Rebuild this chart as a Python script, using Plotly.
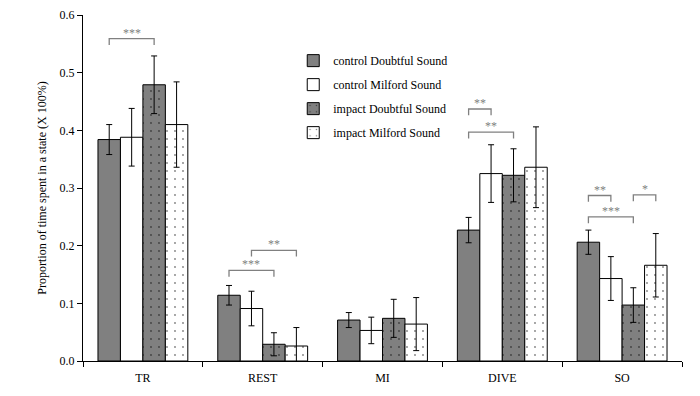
import plotly.graph_objects as go

categories = ["TR", "REST", "MI", "DIVE", "SO"]
series_names = ["control Doubtful Sound", "control Milford Sound",
                "impact Doubtful Sound", "impact Milford Sound"]
control_ds = [0.384, 0.114, 0.071, 0.227, 0.206]
control_ds_err = [0.026, 0.017, 0.013, 0.022, 0.021]
control_ms = [0.388, 0.091, 0.053, 0.325, 0.143]
control_ms_err = [0.050, 0.030, 0.023, 0.050, 0.038]
impact_ds = [0.479, 0.029, 0.074, 0.322, 0.097]
impact_ds_err = [0.050, 0.020, 0.033, 0.046, 0.030]
impact_ms = [0.410, 0.026, 0.064, 0.336, 0.166]
impact_ms_err = [0.074, 0.032, 0.046, 0.070, 0.055]

# significance brackets: (category index, bar a, bar b, level, label)
brackets = [
    (0, 0, 2, 0.559, "***"),
    (1, 0, 2, 0.157, "***"),
    (1, 1, 3, 0.192, "**"),
    (3, 0, 1, 0.437, "**"),
    (3, 0, 2, 0.397, "**"),
    (4, 0, 1, 0.287, "**"),
    (4, 0, 2, 0.250, "***"),
    (4, 2, 3, 0.288, "*"),
]

values = [control_ds, control_ms, impact_ds, impact_ms]
errors = [control_ds_err, control_ms_err, impact_ds_err, impact_ms_err]
fills = ["#808080", "#ffffff", "#808080", "#ffffff"]
patterns = ["", "", ".", "."]

FONT = "Liberation Serif"
bargap = 0.25

fig = go.Figure()
for i in range(4):
    marker = dict(color=fills[i], line=dict(color="black", width=1))
    if patterns[i]:
        marker["pattern"] = dict(shape=patterns[i], fgcolor="black",
                                 bgcolor=fills[i], size=8, solidity=0.04,
                                 fillmode="overlay")
    fig.add_trace(go.Bar(
        x=categories, y=values[i], name=series_names[i],
        legendgroup=str(i),
        marker=marker,
        error_y=dict(type="data", array=errors[i], visible=True,
                     color="black", thickness=1, width=3),
    ))

bar_w = (1 - bargap) / 4
tick = 0.011
for ci, a, b, lev, lab in brackets:
    xa = ci + (a - 1.5) * bar_w
    xb = ci + (b - 1.5) * bar_w
    fig.add_shape(type="path",
                  path=f"M {xa} {lev - tick} L {xa} {lev} L {xb} {lev} L {xb} {lev - tick}",
                  xref="x", yref="y", line=dict(color="#808080", width=1.3))
    fig.add_annotation(x=(xa + xb) / 2, y=lev, xref="x", yref="y", text=lab,
                       showarrow=False, yanchor="bottom", yshift=-3,
                       font=dict(family=FONT, size=12, color="#808080"))

fig.update_layout(
    width=692, height=388,
    margin=dict(l=75, r=18, t=7, b=35),
    paper_bgcolor="white", plot_bgcolor="white",
    barmode="group", bargap=bargap, bargroupgap=0,
    font=dict(family=FONT, size=12, color="black"),
    showlegend=True,
    legend=dict(x=0.351, y=0.91, xanchor="left", yanchor="top",
                bgcolor="rgba(0,0,0,0)", tracegroupgap=5,
                font=dict(family=FONT, size=12)),
    xaxis=dict(showline=True, linecolor="black", linewidth=1,
               ticks="outside", tickson="boundaries", ticklen=5,
               tickcolor="black", showgrid=False, automargin=False,
               ticklabelstandoff=6,
               tickfont=dict(family=FONT, size=12)),
    yaxis=dict(range=[0, 0.6], dtick=0.1, tickformat=".1f",
               showline=True, linecolor="black", linewidth=1,
               ticks="outside", ticklen=5, tickcolor="black",
               showgrid=False, zeroline=False, automargin=False,
               title=dict(text="Proportion of time spent in a state (X 100%)",
                          font=dict(family=FONT, size=12), standoff=10),
               tickfont=dict(family=FONT, size=12)),
)

fig.write_html("out.html")
